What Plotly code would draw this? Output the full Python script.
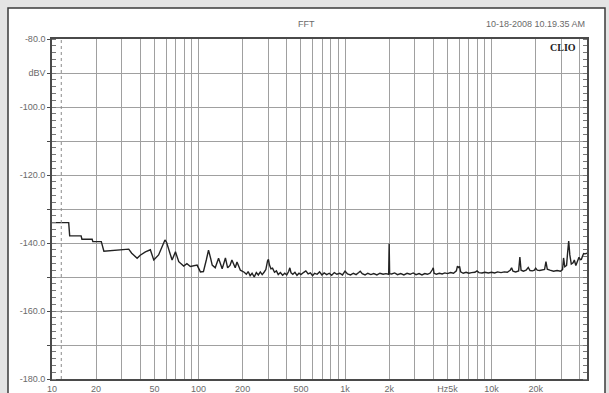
import math
import plotly.graph_objects as go

# ---- data ----
freq_hz = [
    10.0, 13.0, 13.2, 15.8, 16.0, 18.8, 19.0, 21.7, 22.6, 26.0, 30.9, 33.4, 35.0, 38.1, 40.0,
    43.4, 46.9, 49.5, 53.4, 56.0, 59.0, 60.5, 62.6, 66.0, 69.6, 73.3, 79.2, 83.3, 88.0, 92.7,
    97.8, 103, 108, 113, 117, 121, 124, 130, 137, 145, 152.6, 158, 164, 169, 178, 183, 193,
    205, 212, 218, 225, 232, 240, 248, 256, 264, 272, 280, 288, 296, 300, 305, 312, 320, 330,
    340, 350, 362, 375, 388, 400, 412, 420, 428, 440, 455, 470, 485, 500, 520, 540, 560, 580,
    600, 620, 645, 670, 695, 720, 750, 780, 810, 845, 880, 920, 960, 1000, 1040, 1090, 1140,
    1190, 1240, 1270, 1310, 1370, 1430, 1500, 1570, 1650, 1730, 1820, 1900, 1960, 1985, 2000,
    2015, 2080, 2180, 2280, 2400, 2520, 2650, 2780, 2920, 3050, 3200, 3350, 3500, 3650, 3800,
    3950, 4000, 4050, 4200, 4400, 4600, 4800, 5000, 5250, 5500, 5750, 5850, 5950, 6050, 6150,
    6400, 6700, 7000, 7300, 7700, 7950, 8200, 8600, 9000, 9500, 10000, 10500, 11000, 11600,
    12200, 12800, 13400, 13700, 14000, 14600, 15300, 15600, 15900, 16500, 17200, 17800, 18300,
    19000, 19600, 20000, 20500, 21300, 22200, 23000, 23500, 24000, 25000, 26500, 28000, 29500,
    30500, 31000, 31600, 32500, 33000, 33600, 34200, 35000, 36000, 36700, 37600, 38500, 39500,
    40300, 41000, 41800, 42500, 43500, 44800,
]
level_dbv = [
    -134.0, -134.0, -137.9, -137.9, -138.9, -138.9, -139.6, -139.6, -142.4, -142.2, -141.9, -141.8, -143.0, -144.5, -143.6,
    -142.6, -142.0, -145.0, -143.5, -141.5, -139.1, -139.8, -141.8, -145.0, -142.6, -145.5, -146.8, -146.1, -146.9, -146.8,
    -146.5, -148.5, -148.4, -145.0, -142.1, -144.5, -146.5, -147.3, -144.5, -147.6, -144.4, -147.3, -146.6, -145.0, -147.3, -145.6, -148.0,
    -148.6, -149.2, -148.4, -149.6, -148.9, -150.0, -148.7, -149.4, -148.5, -149.3, -148.6, -147.8, -145.2, -144.8, -146.5, -147.6, -147.4, -148.6,
    -148.2, -149.3, -148.7, -149.5, -148.9, -149.4, -148.4, -147.3, -148.8, -149.2, -148.6, -149.5, -148.9, -149.3, -148.7, -148.2, -149.1, -148.8,
    -149.6, -148.9, -149.2, -148.5, -149.4, -148.8, -149.3, -148.9, -149.5, -148.7, -149.2, -148.9, -149.4, -148.3, -149.1, -149.4, -148.9,
    -149.3, -148.7, -148.3, -149.0, -149.4, -148.9, -149.3, -149.0, -149.4, -148.9, -149.2, -149.0, -149.3, -149.2, -140.2,
    -149.0, -149.1, -148.8, -149.3, -149.0, -149.4, -148.9, -149.2, -148.8, -149.3, -149.0, -149.4, -149.0, -149.2, -148.9,
    -147.8, -147.3, -148.9, -149.2, -148.9, -149.1, -148.8, -149.0, -148.7, -148.9, -148.2, -146.8, -147.2, -146.9, -148.5,
    -148.9, -148.6, -148.9, -148.7, -148.6, -148.2, -148.7, -148.8, -148.6, -148.8, -148.6, -148.8, -148.5, -148.7,
    -148.5, -148.6, -148.0, -147.3, -148.3, -148.5, -148.2, -144.1, -148.0, -148.3, -148.0, -147.2, -148.1,
    -148.2, -148.0, -147.4, -148.0, -148.1, -147.9, -147.8, -145.5, -147.7, -148.0, -148.3, -148.1, -148.3,
    -147.8, -144.4, -147.0, -146.6, -143.0, -139.4, -143.5, -146.2, -145.8, -145.0, -146.6, -145.5, -144.2,
    -144.9, -144.8, -143.8, -143.1, -143.2, -143.0,
]

freq_min, freq_max = 10, 44800
db_min, db_max = -180, -80
cursor_hz = 11.57

grid_freqs = [10, 20, 30, 40, 50, 60, 70, 80, 90, 100, 200, 300, 400, 500, 600, 700, 800, 900,
              1000, 2000, 3000, 4000, 5000, 6000, 7000, 8000, 9000, 10000, 20000, 30000, 40000]
labelled = {10: "10", 20: "20", 50: "50", 100: "100", 200: "200", 500: "500", 1000: "1k",
            2000: "2k", 5000: "Hz5k", 10000: "10k", 20000: "20k"}
x_ticktext = [labelled.get(f, "") for f in grid_freqs]

y_tickvals = list(range(-180, -79, 10))
y_label_map = {-80: "-80.0", -90: "dBV", -100: "-100.0", -120: "-120.0", -140: "-140.0",
               -160: "-160.0", -180: "-180.0"}
y_ticktext = [y_label_map.get(v, "") for v in y_tickvals]

W, H = 609, 393
L, R, T, B = 52, 22, 39, 14
pw, ph = W - L - R, H - T - B


def px_x(x):
    return (x - L) / pw


def px_y(y):
    return (H - B - y) / ph


FONT = "Liberation Sans, Arial, sans-serif"
GRID = "#a0a0a0"

fig = go.Figure()
fig.add_trace(go.Scatter(x=freq_hz, y=level_dbv, mode="lines",
                         line=dict(color="#222222", width=1.4), showlegend=False,
                         hoverinfo="x+y"))
fig.add_trace(go.Scatter(x=freq_hz, y=level_dbv, mode="lines", yaxis="y2",
                         line=dict(color="rgba(0,0,0,0)", width=0), showlegend=False,
                         hoverinfo="skip"))

fig.update_layout(
    width=W, height=H,
    margin=dict(l=L, r=R, t=T, b=B, pad=0),
    paper_bgcolor="#e4e4e4",
    plot_bgcolor="white",
    template="none",
    showlegend=False,
    xaxis=dict(
        type="log", range=[math.log10(freq_min), math.log10(freq_max)],
        tickvals=grid_freqs, ticktext=x_ticktext, ticks="", automargin=False,
        showgrid=True, gridcolor=GRID, gridwidth=1.3, zeroline=False,
        showline=True, linecolor="#4a4a4a", linewidth=1.6, mirror=True,
        tickfont=dict(family=FONT, size=9, color="#6a6a6a"),
    ),
    yaxis=dict(
        range=[db_min, db_max], tickvals=y_tickvals, ticktext=y_ticktext,
        ticks="outside", ticklen=3, tickcolor="#4a4a4a", automargin=False,
        showgrid=True, gridcolor=GRID, gridwidth=1.3, zeroline=False,
        showline=True, linecolor="#4a4a4a", linewidth=1.6, mirror=True,
        tickfont=dict(family=FONT, size=9, color="#6a6a6a"),
        minor=dict(dtick=2, ticks="inside", ticklen=4, tickcolor="#777", tickwidth=1,
                   showgrid=False),
    ),
    yaxis2=dict(
        range=[db_min, db_max], overlaying="y", side="right", showticklabels=False,
        showgrid=False, zeroline=False, showline=False, tickvals=y_tickvals, ticks="",
        automargin=False,
        minor=dict(dtick=2, ticks="inside", ticklen=4, tickcolor="#777", tickwidth=1,
                   showgrid=False),
    ),
    shapes=[
        dict(type="rect", xref="paper", yref="paper", layer="below",
             x0=px_x(8), x1=px_x(605), y0=px_y(400), y1=px_y(8),
             fillcolor="white", line=dict(color="#3a3a3a", width=1.5)),
        dict(type="line", xref="x", yref="y", x0=cursor_hz, x1=cursor_hz, y0=db_min, y1=db_max,
             line=dict(color="#8a8a8a", width=1, dash="dot")),
    ],
    annotations=[
        dict(text="FFT", xref="paper", yref="paper", x=px_x(306), y=px_y(24),
             xanchor="center", yanchor="middle", showarrow=False,
             font=dict(family=FONT, size=9, color="#6a6a6a")),
        dict(text="10-18-2008 10.19.35 AM", xref="paper", yref="paper", x=px_x(587), y=px_y(24),
             xanchor="right", yanchor="middle", showarrow=False,
             font=dict(family=FONT, size=9, color="#6a6a6a")),
        dict(text="<b>CLIO</b>", xref="paper", yref="paper", x=px_x(578), y=px_y(47),
             xanchor="right", yanchor="middle", showarrow=False,
             font=dict(family="Liberation Serif, Times New Roman, serif", size=10, color="#222")),
    ],
)

fig.write_html(
    "out.html",
    config={"displayModeBar": False},
    post_script="document.body.style.margin='0';document.body.style.padding='0';"
                "document.body.style.overflow='hidden';",
)
